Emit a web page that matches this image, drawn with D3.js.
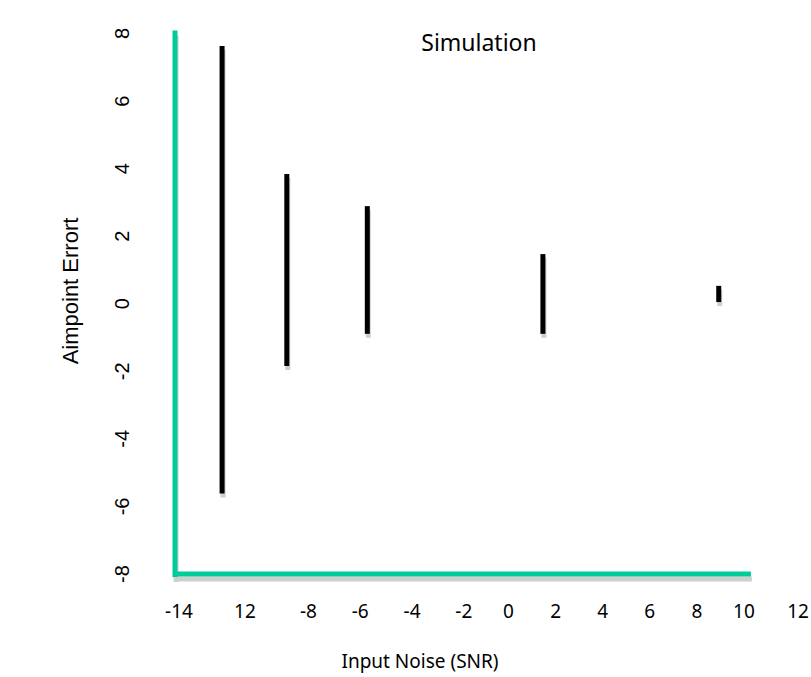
<!DOCTYPE html>
<html>
<head>
<meta charset="utf-8">
<script src="https://cdn.jsdelivr.net/npm/d3@7"></script>
<style>
  body { margin: 0; background: #fff; }
  svg { display: block; }
</style>
</head>
<body>
<div id="chart"></div>
<script>
// tick positions and the labels printed there (the second one really reads "12")
var xTickValues = [-14, -11.2, -8.5, -6.3, -4.1, -1.9, 0, 2, 4, 6, 8, 10, 12.3];
var xTickLabels = ["-14", "12", "-8", "-6", "-4", "-2", "0", "2", "4", "6", "8", "10", "12"];
var yTickValues = [8, 6, 4, 2, 0, -2, -4, -6, -8];

// error bars: input noise vs. aimpoint error range
var snr = [-12.17, -9.42, -6.0, 1.46, 8.93];
var errHigh = [7.63, 3.84, 2.89, 1.47, 0.53];
var errLow = [-5.62, -1.84, -0.89, -0.89, 0.05];

var svgWidth = 811;
var svgHeight = 677;

var svg = d3.select("#chart")
  .append("svg")
  .attr("width", svgWidth)
  .attr("height", svgHeight);

var x = d3.scaleLinear().domain([-14, 12]).range([179, 791]);
var y = d3.scaleLinear().domain([-8, 8]).range([574, 33.5]);

var green = "#00cc99";
var shadow = "#cfcfcf";

// axis lines (green with a soft grey drop shadow)
var axisLines = [
  { x1: x(-14) - 4, y1: y(8) - 3, x2: x(-14) - 4, y2: y(-8) + 3 },
  { x1: x(-14) - 6, y1: y(-8), x2: x(10) + 7, y2: y(-8) }
];

svg.append("g").selectAll("line")
  .data(axisLines)
  .enter()
  .append("line")
  .attr("x1", d => d.x1 + 1)
  .attr("y1", d => d.y1 + 5)
  .attr("x2", d => d.x2 + 1)
  .attr("y2", d => d.y2 + 5)
  .attr("stroke", shadow)
  .attr("stroke-width", 5);

svg.append("g").selectAll("line")
  .data(axisLines)
  .enter()
  .append("line")
  .attr("x1", d => d.x1)
  .attr("y1", d => d.y1)
  .attr("x2", d => d.x2)
  .attr("y2", d => d.y2)
  .attr("stroke", green)
  .attr("stroke-width", 5);

// bars
var bars = snr.map((s, i) => ({ s: s, hi: errHigh[i], lo: errLow[i] }));

svg.append("g").selectAll("line")
  .data(bars)
  .enter()
  .append("line")
  .attr("x1", d => x(d.s) + 1)
  .attr("x2", d => x(d.s) + 1)
  .attr("y1", d => y(d.hi) + 4)
  .attr("y2", d => y(d.lo) + 4)
  .attr("stroke", shadow)
  .attr("stroke-width", 5);

svg.append("g").selectAll("line")
  .data(bars)
  .enter()
  .append("line")
  .attr("x1", d => x(d.s))
  .attr("x2", d => x(d.s))
  .attr("y1", d => y(d.hi))
  .attr("y2", d => y(d.lo))
  .attr("stroke", "#000")
  .attr("stroke-width", 5);

// x tick labels
svg.append("g").selectAll("text")
  .data(xTickValues)
  .enter()
  .append("text")
  .attr("x", d => x(d))
  .attr("y", 618)
  .attr("text-anchor", "middle")
  .style("font-family", "'Noto Sans', sans-serif")
  .style("font-size", "19px")
  .text((d, i) => xTickLabels[i]);

// y tick labels, rotated
svg.append("g").selectAll("text")
  .data(yTickValues)
  .enter()
  .append("text")
  .attr("transform", d => `translate(129, ${y(d)}) rotate(-90)`)
  .attr("text-anchor", "middle")
  .style("font-family", "'Liberation Sans', Arial, sans-serif")
  .style("font-size", "20px")
  .text(d => d);

// titles
svg.append("text")
  .attr("x", 479)
  .attr("y", 51)
  .attr("text-anchor", "middle")
  .style("font-family", "'Noto Sans', sans-serif")
  .style("font-size", "23px")
  .text("Simulation");

svg.append("text")
  .attr("x", 420)
  .attr("y", 668)
  .attr("text-anchor", "middle")
  .style("font-family", "'Noto Sans', sans-serif")
  .style("font-size", "19px")
  .text("Input Noise (SNR)");

svg.append("text")
  .attr("transform", "translate(78, 291) rotate(-90)")
  .attr("text-anchor", "middle")
  .style("font-family", "'Liberation Sans', Arial, sans-serif")
  .style("font-size", "22px")
  .text("Aimpoint Errort");
</script>
</body>
</html>
